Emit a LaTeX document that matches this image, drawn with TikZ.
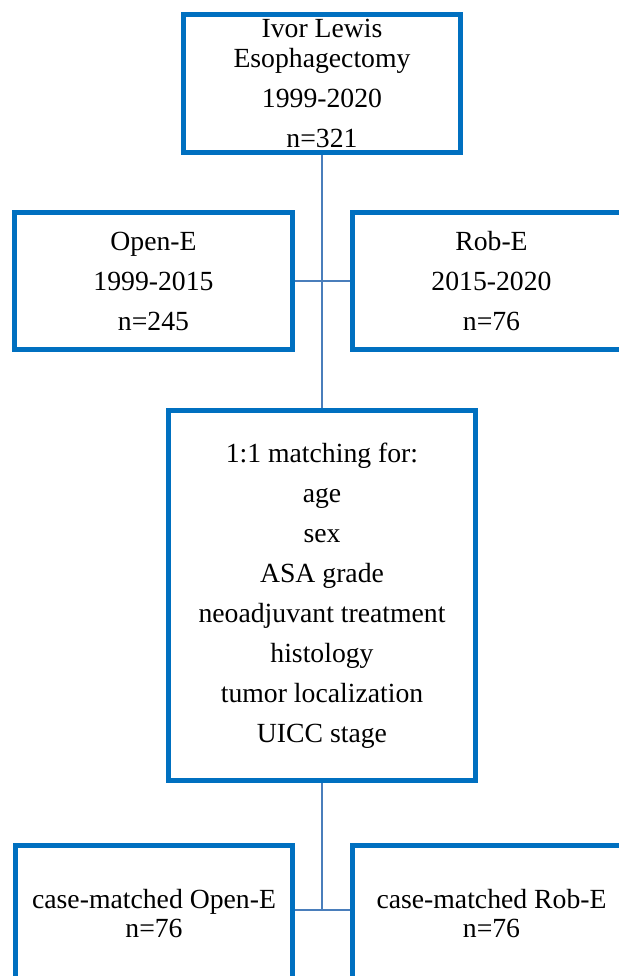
\documentclass[tikz,border=0pt]{standalone}
\usepackage{fontspec}
\setmainfont{Liberation Serif}
\usetikzlibrary{positioning,calc}
\definecolor{boxblue}{RGB}{0,112,192}
\definecolor{lineblue}{RGB}{74,126,187}
\tikzset{every picture/.style={line width=0.75pt}}
\tikzset{
  flowbox/.style={draw=boxblue, line width=5pt, fill=white, inner sep=0pt,
    align=center, font=\fontsize{27.7}{40}\selectfont},
  link/.style={draw=lineblue, line width=2pt}
}

\begin{document}
\begin{tikzpicture}[x=1pt, y=-1pt]
    \useasboundingbox (0,0) rectangle (618,976);

    % branch points
    \coordinate (split1) at (322,281);
    \coordinate (split2) at (322,910);

    % cohort
    \node[flowbox, minimum width=277pt, minimum height=138.5pt] (cohort) at (322,83.75)
        {Ivor Lewis\\[-10pt]Esophagectomy\\1999-2020\\n=321};

    % two groups
    \node[flowbox, minimum width=278pt, minimum height=137pt] (open) at (153.5,281)
        {Open-E\\1999-2015\\n=245};
    \node[flowbox, minimum width=278pt, minimum height=137pt] (rob) at (491.5,281)
        {Rob-E\\2015-2020\\n=76};

    % matching criteria
    \node[flowbox, minimum width=307pt, minimum height=370pt] (match) at (322,595.5)
        {1:1 matching for:\\age\\sex\\ASA grade\\neoadjuvant treatment\\histology\\tumor localization\\UICC stage};

    % matched groups
    \node[flowbox, minimum width=277pt, minimum height=138pt] (cmopen) at (154,914)
        {case-matched Open-E\\[-11pt]n=76};
    \node[flowbox, minimum width=278pt, minimum height=138pt] (cmrob) at (491.5,914)
        {case-matched Rob-E\\[-11pt]n=76};

    % lines
    \draw[link] (cohort.south) -- (match.north);
    \draw[link] (open.east) -- (split1) -- (rob.west);
    \draw[link] (match.south) -- (split2);
    \draw[link] (cmopen.east |- split2) -- (split2) -- (cmrob.west |- split2);
\end{tikzpicture}
\end{document}
